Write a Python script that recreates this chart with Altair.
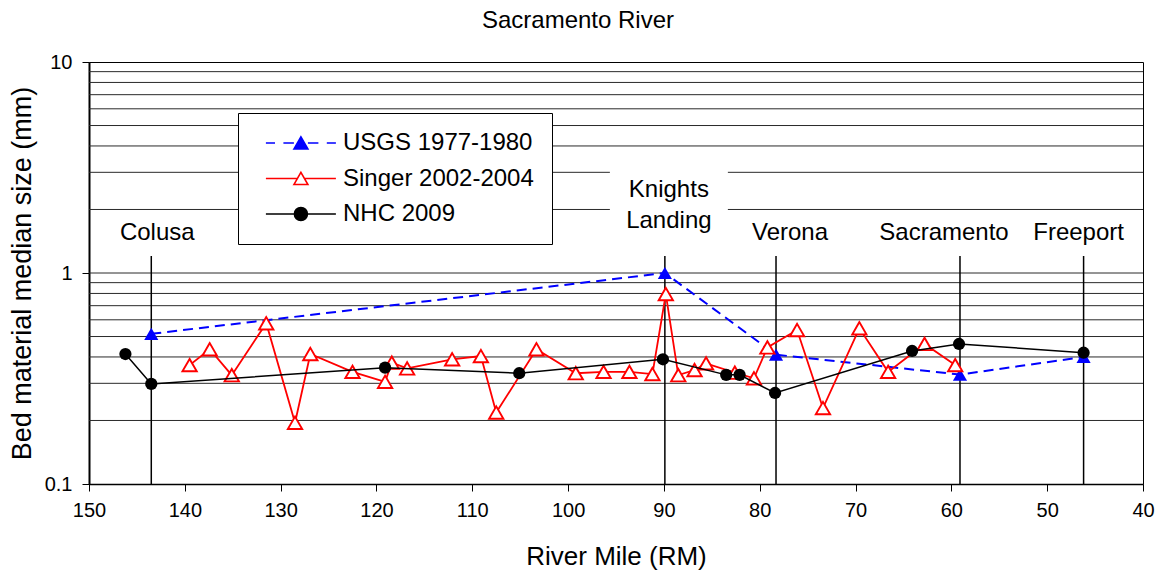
import altair as alt
import pandas as pd

FONT = "Liberation Sans"

# ---------------- data ----------------
series_names = ["USGS 1977-1980", "Singer 2002-2004", "NHC 2009"]

usgs_rm = [143.5, 89.9, 78.3, 59.1, 46.2]
usgs_d50 = [0.515, 1.0, 0.41, 0.33, 0.40]

singer_rm = [139.5, 137.4, 135.1, 131.5, 128.5, 126.9, 122.5, 119.1, 118.4, 116.8,
             112.1, 109.1, 107.5, 103.3, 99.2, 96.3, 93.6, 91.2, 89.8, 88.5,
             86.8, 85.6, 82.6, 80.6, 79.2, 76.1, 73.4, 69.6, 66.6, 62.8, 59.6]
singer_d50 = [0.366, 0.435, 0.328, 0.578, 0.195, 0.413, 0.34, 0.305, 0.376, 0.353,
              0.39, 0.404, 0.218, 0.435, 0.335, 0.34, 0.34, 0.332, 0.795, 0.328,
              0.347, 0.373, 0.337, 0.317, 0.444, 0.537, 0.229, 0.547, 0.34, 0.461, 0.366]

nhc_rm = [146.2, 143.5, 119.1, 105.1, 90.1, 83.5, 82.1, 78.4, 64.1, 59.2, 46.2]
nhc_d50 = [0.413, 0.298, 0.356, 0.335, 0.39, 0.329, 0.329, 0.27, 0.427, 0.461, 0.419]

station_names = ["Colusa", "Knights Landing", "Verona", "Sacramento", "Freeport"]
station_rm = [143.5, 89.9, 78.3, 59.1, 46.2]

x_ticks = [150, 140, 130, 120, 110, 100, 90, 80, 70, 60, 50, 40]
y_ticks = [0.1, 1, 10]
grid_vals = [0.2, 0.3, 0.4, 0.5, 0.6, 0.7, 0.8, 0.9, 1, 2, 3, 4, 5, 6, 7, 8, 9]

# label nudges (pixels) relative to each station line
label_dx = {"Colusa": 6, "Verona": 14, "Sacramento": -16, "Freeport": -5}

# ---------------- tables ----------------
def series_df(rm, d50, name):
    return pd.DataFrame({"rm": rm, "d50": d50, "series": name, "idx": range(len(rm))})

usgs = series_df(usgs_rm, usgs_d50, series_names[0])
singer = series_df(singer_rm, singer_d50, series_names[1])
nhc = series_df(nhc_rm, nhc_d50, series_names[2])
stations = pd.DataFrame({"name": station_names, "rm": station_rm})
grid = pd.DataFrame({"v": grid_vals})

xscale = alt.Scale(domain=[150, 40], nice=False, zero=False)
yscale = alt.Scale(type="log", domain=[0.1, 10], nice=False)

x_axis = alt.Axis(values=x_ticks, title="River Mile (RM)", grid=False,
                  labelFontSize=20, titleFontSize=26, titleFontWeight="normal",
                  labelFont=FONT, titleFont=FONT, tickSize=7, tickColor="black",
                  domainColor="black", domainWidth=1.5, labelColor="black",
                  titleColor="black", labelPadding=9, titlePadding=23,
                  labelFlush=False)
y_axis = alt.Axis(values=y_ticks, title="Bed material median size (mm)", grid=False,
                  format="~g", labelFontSize=20, titleFontSize=27,
                  titleFontWeight="normal", labelFont=FONT, titleFont=FONT,
                  tickSize=7, tickColor="black", domainColor="black",
                  domainWidth=2, labelColor="black", titleColor="black",
                  labelPadding=10, titlePadding=8, labelFlush=False)

base_grid = alt.Chart(grid).mark_rule(color="#2a2a2a", strokeWidth=1).encode(
    x=alt.datum(150, scale=xscale, axis=x_axis), x2=alt.datum(40),
    y=alt.Y("v:Q", scale=yscale, axis=y_axis))

# white box behind the two-line label
kl = stations[stations["name"] == "Knights Landing"]
kl_box = alt.Chart(kl).mark_rect(color="white", xOffset=-55, x2Offset=63,
                                 yOffset=-93, y2Offset=-18).encode(
    x=alt.X("rm:Q", scale=xscale), x2="rm:Q",
    y=alt.Y("top:Q", scale=yscale), y2="top:Q"
).transform_calculate(top="1.204")

station_rules = alt.Chart(stations).mark_rule(color="black", strokeWidth=1.5).encode(
    x=alt.X("rm:Q", scale=xscale),
    y=alt.datum(1.204, scale=yscale), y2=alt.datum(0.1))

label_layers = []
for name, dx in label_dx.items():
    sub = stations[stations["name"] == name]
    label_layers.append(alt.Chart(sub).mark_text(
        font=FONT, fontSize=24, baseline="bottom", color="black", dx=dx).encode(
        x=alt.X("rm:Q", scale=xscale), y=alt.datum(1.357, scale=yscale),
        text="name:N"))

label_kl = alt.Chart(kl).mark_text(
    font=FONT, fontSize=24, baseline="bottom", color="black", lineHeight=31, dx=4).encode(
    x=alt.X("rm:Q", scale=xscale), y=alt.datum(2.17, scale=yscale),
    text=alt.value(["Knights", "Landing"]))

usgs_line = alt.Chart(usgs).mark_line(color="blue", strokeWidth=2, strokeDash=[10, 6]).encode(
    x=alt.X("rm:Q", scale=xscale), y=alt.Y("d50:Q", scale=yscale), order="idx:Q")
usgs_pts = alt.Chart(usgs).mark_point(shape="triangle-up", size=200, filled=True,
                                      color="blue", opacity=1).encode(x="rm:Q", y="d50:Q")

singer_line = alt.Chart(singer).mark_line(color="red", strokeWidth=1.8).encode(
    x="rm:Q", y="d50:Q", order="idx:Q")
singer_pts = alt.Chart(singer).mark_point(shape="triangle-up", size=205, fill="white",
                                          fillOpacity=1, stroke="red", strokeWidth=1.9,
                                          opacity=1).encode(x="rm:Q", y="d50:Q")

nhc_line = alt.Chart(nhc).mark_line(color="black", strokeWidth=1.5).encode(
    x="rm:Q", y="d50:Q", order="idx:Q")
nhc_pts = alt.Chart(nhc).mark_circle(size=150, color="black", opacity=1).encode(
    x="rm:Q", y="d50:Q")

# legend-only layer (no visible marks) with line+marker symbols
# (paths shifted right so the label sits after the 70 px sample line)
sym_usgs = ("M-0.3,0H1.0M2.2,0H3.7M5.7,0H7.2M8.4,0H9.7"
            "M3.7,0.866L4.7,-0.866L5.7,0.866Z")
sym_singer = "M-0.3,0H4.2M5.2,0H9.7M3.7,0.866L4.7,-0.866L5.7,0.866Z"
sym_nhc = ("M-0.3,0H3.77M5.63,0H9.7"
           "M3.77,0A0.93,0.93,0,1,1,5.63,0A0.93,0.93,0,1,1,3.77,0Z")

leg = alt.Legend(title=None, orient="none", legendX=149, legendY=51,
                 fillColor="white", strokeColor="black", padding=18,
                 labelFont=FONT, labelFontSize=24, labelColor="black",
                 labelLimit=400, symbolSize=196, symbolStrokeWidth=1.6,
                 rowPadding=11.5, labelOffset=63, symbolOpacity=1)

legend_layer = alt.Chart(pd.DataFrame({"series": series_names})).mark_point(
    filled=True, opacity=1).encode(
    shape=alt.Shape("series:N", scale=alt.Scale(domain=series_names,
                                                range=[sym_usgs, sym_singer, sym_nhc]),
                    legend=leg),
    fill=alt.Fill("series:N", scale=alt.Scale(domain=series_names,
                                              range=["blue", "white", "black"]), legend=leg),
    stroke=alt.Stroke("series:N", scale=alt.Scale(domain=series_names,
                                                  range=["blue", "red", "black"]), legend=leg),
).transform_filter("false")

chart = alt.layer(
    base_grid, usgs_line, kl_box, station_rules, *label_layers, label_kl,
    usgs_pts, singer_line, singer_pts, nhc_line, nhc_pts, legend_layer
).properties(
    width=1054, height=422,
    title=alt.TitleParams("Sacramento River", font=FONT, fontSize=24,
                          fontWeight="normal", color="black", anchor="middle",
                          frame="group", dx=-38, offset=0, baseline="alphabetic"),
    autosize=alt.AutoSizeParams(type="none"),
    padding={"left": 89, "top": 62, "right": 15, "bottom": 93},
    background="white",
).configure_view(stroke="black", strokeWidth=1)

chart.save("out.html", embed_options={"renderer": "svg", "actions": False})
